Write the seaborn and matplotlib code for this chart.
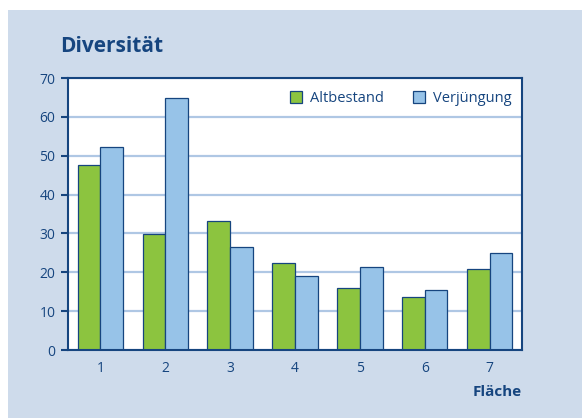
import pandas as pd
import seaborn as sns
import matplotlib.pyplot as plt
from matplotlib.patches import Rectangle

# Werte
flaeche = ['1', '2', '3', '4', '5', '6', '7']
altbestand = [47.7, 29.8, 33.3, 22.3, 16.0, 13.6, 20.8]
verjuengung = [52.2, 64.8, 26.6, 19.1, 21.3, 15.4, 25.0]
y_ticks = [0, 10, 20, 30, 40, 50, 60, 70]

df = pd.DataFrame({'Fläche': flaeche * 2,
                   'Wert': altbestand + verjuengung,
                   'Gruppe': ['Altbestand'] * 7 + ['Verjüngung'] * 7})

dark = '#16457f'
green = '#8cc43f'
blue = '#97c3e8'
grid = '#afc7e4'
panel = '#cedbeb'

sns.set_style('white')
plt.rcParams['font.family'] = ['Open Sans', 'DejaVu Sans']

fig = plt.figure(figsize=(5.82, 4.18), dpi=100)
fig.patch.set_facecolor('white')
fig.patches.append(Rectangle((8 / 582, 0), 1, 408 / 418, transform=fig.transFigure,
                             facecolor=panel, edgecolor='none', zorder=-5))

ax = fig.add_axes([68 / 582, (418 - 350) / 418, 454 / 582, 272 / 418])
ax.set_zorder(2)
sns.barplot(data=df, x='Fläche', y='Wert', hue='Gruppe', ax=ax,
            palette=[green, blue], width=0.7, edgecolor=dark, linewidth=0.9,
            saturation=1)

ax.set_ylim(0, 70)
ax.set_xlim(-0.5, 6.5)
ax.set_yticks(y_ticks)
ax.yaxis.grid(True, color=grid, linewidth=1.6)
ax.set_axisbelow(True)
ax.set_facecolor('white')

for s in ax.spines.values():
    s.set_color(dark)
    s.set_linewidth(1.5)

ax.set_xticks(range(7))
ax.set_xticks([i - 0.5 for i in range(8)], minor=True)
ax.tick_params(axis='x', which='major', length=0, pad=8, labelsize=10, labelcolor=dark)
ax.tick_params(axis='x', which='minor', length=5, width=1.5, color=dark, direction='out')
ax.tick_params(axis='y', length=5, width=1.5, color=dark, left=True, labelsize=10,
               labelcolor=dark, pad=4)

ax.set_xlabel('')
ax.set_ylabel('')

fig.text(60 / 582, 1 - 47 / 418, 'Diversität', fontsize=15, fontweight='bold',
         color=dark, va='center', ha='left')
fig.text(522 / 582, 1 - 392 / 418, 'Fläche', fontsize=11, fontweight='bold',
         color=dark, va='center', ha='right')

leg = ax.legend(loc='upper right', ncol=2, frameon=False, fontsize=10.5,
                handlelength=0.85, handleheight=0.85, handletextpad=0.5,
                columnspacing=2.0, bbox_to_anchor=(1.005, 1.0))
for t in leg.get_texts():
    t.set_color(dark)

fig.savefig('out.png', dpi=100)
